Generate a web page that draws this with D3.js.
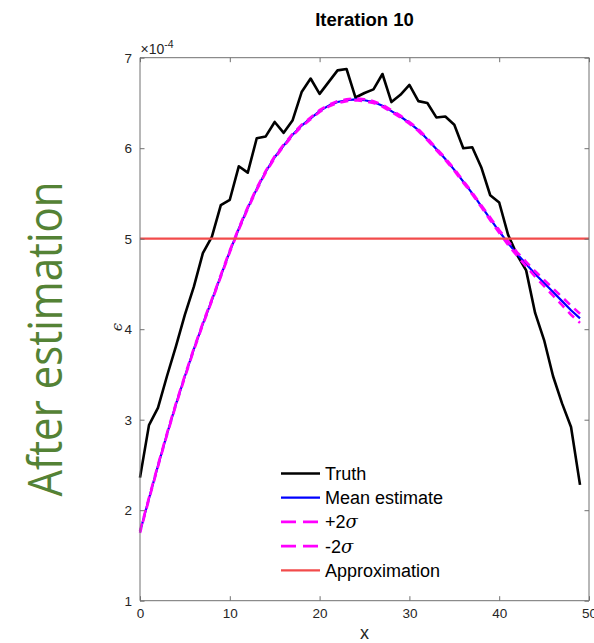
<!DOCTYPE html>
<html>
<head>
<meta charset="utf-8">
<script src="https://cdn.jsdelivr.net/npm/d3@7"></script>
<style>
  html, body { margin: 0; padding: 0; background: #fff; }
  svg { display: block; }
</style>
</head>
<body>
<svg id="chart" width="594" height="643"></svg>
<script>
// Error values (units of 1e-4) at x = 0..49
const truth = [2.36, 2.94, 3.13, 3.48, 3.81, 4.16, 4.47, 4.84, 5.02, 5.37,
               5.43, 5.80, 5.73, 6.11, 6.13, 6.29, 6.17, 6.31, 6.62, 6.77,
               6.60, 6.73, 6.86, 6.875, 6.56, 6.61, 6.65, 6.82, 6.51, 6.59,
               6.70, 6.52, 6.50, 6.34, 6.35, 6.26, 6.00, 6.01, 5.79, 5.48,
               5.40, 5.04, 4.82, 4.65, 4.18, 3.88, 3.48, 3.18, 2.92, 2.28];
const meanEstimate = [1.76, 2.13, 2.49, 2.84, 3.17, 3.48, 3.78, 4.06, 4.32, 4.59,
                      4.86, 5.11, 5.34, 5.55, 5.74, 5.90, 6.03, 6.15, 6.25, 6.33,
                      6.41, 6.47, 6.51, 6.53, 6.54, 6.53, 6.51, 6.47, 6.41, 6.35,
                      6.28, 6.20, 6.10, 5.99, 5.88, 5.76, 5.63, 5.50, 5.36, 5.22,
                      5.08, 4.95, 4.83, 4.72, 4.61, 4.51, 4.41, 4.31, 4.21, 4.12];
const plus2Sigma = [1.77, 2.14, 2.50, 2.85, 3.18, 3.49, 3.79, 4.07, 4.33, 4.60,
                    4.87, 5.12, 5.35, 5.56, 5.75, 5.91, 6.04, 6.16, 6.26, 6.34,
                    6.42, 6.48, 6.52, 6.54, 6.55, 6.54, 6.52, 6.48, 6.42, 6.36,
                    6.29, 6.21, 6.11, 6.00, 5.89, 5.77, 5.64, 5.51, 5.37, 5.235,
                    5.095, 4.97, 4.85, 4.745, 4.64, 4.545, 4.45, 4.355, 4.26, 4.17];
const minus2Sigma = [1.75, 2.12, 2.48, 2.83, 3.16, 3.47, 3.77, 4.05, 4.31, 4.58,
                     4.85, 5.10, 5.33, 5.54, 5.73, 5.89, 6.02, 6.14, 6.24, 6.32,
                     6.40, 6.46, 6.50, 6.52, 6.53, 6.52, 6.50, 6.46, 6.40, 6.34,
                     6.27, 6.19, 6.09, 5.98, 5.87, 5.75, 5.62, 5.49, 5.35, 5.205,
                     5.065, 4.93, 4.81, 4.695, 4.58, 4.475, 4.37, 4.265, 4.16, 4.07];
const approximation = 5.0;
const xTicks = [0, 10, 20, 30, 40, 50];
const yTicks = [1, 2, 3, 4, 5, 6, 7];
const legendLabels = ["Truth", "Mean estimate", "+2\u03c3", "-2\u03c3", "Approximation"];

const svg = d3.select("#chart");
const font = "'Liberation Sans', Arial, Helvetica, sans-serif";

const x = d3.scaleLinear().domain([0, 50]).range([140, 589]);
const y = d3.scaleLinear().domain([1, 7]).range([600.7, 57.7]);
const xs = truth.map((_, i) => i);

// side caption
svg.append("text")
  .attr("transform", "translate(62,339) rotate(-90)")
  .attr("text-anchor", "middle")
  .attr("font-family", "'Open Sans', sans-serif")
  .attr("font-size", 47)
  .attr("textLength", 315)
  .attr("lengthAdjust", "spacingAndGlyphs")
  .attr("fill", "#548235")
  .text("After estimation");

// title
svg.append("text")
  .attr("x", 364.5).attr("y", 26)
  .attr("text-anchor", "middle")
  .attr("font-family", font).attr("font-weight", "bold")
  .attr("font-size", 18.5).attr("fill", "#000")
  .text("Iteration 10");

// series
const line = vals => d3.line().x((d, i) => x(xs[i])).y(d => y(d))(vals);
const plot = svg.append("g");
plot.append("path").attr("d", line(truth))
  .attr("fill", "none").attr("stroke", "#000").attr("stroke-width", 2.6)
  .attr("stroke-linejoin", "round");
plot.append("path").attr("d", line(meanEstimate))
  .attr("fill", "none").attr("stroke", "#0000ff").attr("stroke-width", 2.2);
plot.append("path").attr("d", line(plus2Sigma))
  .attr("fill", "none").attr("stroke", "#ff00ff").attr("stroke-width", 2.6)
  .attr("stroke-dasharray", "8,6");
plot.append("path").attr("d", line(minus2Sigma))
  .attr("fill", "none").attr("stroke", "#ff00ff").attr("stroke-width", 2.6)
  .attr("stroke-dasharray", "8,6").attr("stroke-dashoffset", 3);
plot.append("line")
  .attr("x1", x(0)).attr("x2", x(50))
  .attr("y1", y(approximation)).attr("y2", y(approximation))
  .attr("stroke", "#f24b4b").attr("stroke-width", 2.2);

// axes box with inward ticks on all four sides
const axisColor = "#707070";
const tickLen = 4.5;
const xb = d3.axisBottom(x).tickValues(xTicks).tickSize(-tickLen).tickPadding(8).tickFormat(d3.format("d"));
const xt = d3.axisTop(x).tickValues(xTicks).tickSize(-tickLen).tickFormat("");
const yl = d3.axisLeft(y).tickValues(yTicks).tickSize(-tickLen).tickPadding(8).tickFormat(d3.format("d"));
const yr = d3.axisRight(y).tickValues(yTicks).tickSize(-tickLen).tickFormat("");

function styleAxis(g) {
  g.select(".domain").attr("stroke", axisColor).attr("stroke-width", 1);
  g.selectAll(".tick line").attr("stroke", axisColor);
  g.selectAll(".tick text").attr("fill", "#262626").attr("font-size", 13.5).attr("font-family", font);
}
svg.append("g").attr("transform", `translate(0,${y(1)})`).call(xb).call(styleAxis)
  .call(g => g.select(".domain").attr("d", `M${x(0)},0H${x(50)}`));
svg.append("g").attr("transform", `translate(0,${y(7)})`).call(xt).call(styleAxis)
  .call(g => g.select(".domain").attr("d", `M${x(0)},0H${x(50)}`));
svg.append("g").attr("transform", `translate(${x(0)},0)`).call(yl).call(styleAxis)
  .call(g => g.select(".domain").attr("d", `M0,${y(1)}V${y(7)}`));
svg.append("g").attr("transform", `translate(${x(50)},0)`).call(yr).call(styleAxis)
  .call(g => g.select(".domain").attr("d", `M0,${y(1)}V${y(7)}`));

// exponent label
const expo = svg.append("text")
  .attr("x", 140.5).attr("y", 54)
  .attr("font-family", font).attr("font-size", 14).attr("fill", "#262626");
expo.append("tspan").text("\u00d710");
expo.append("tspan").attr("dy", -6).attr("font-size", 10.5).text("-4");

// axis labels
svg.append("text")
  .attr("x", 364.5).attr("y", 639)
  .attr("text-anchor", "middle")
  .attr("font-family", font).attr("font-size", 18).attr("fill", "#262626")
  .text("x");
svg.append("text")
  .attr("transform", "translate(122,327) rotate(-90)")
  .attr("text-anchor", "middle")
  .attr("font-family", "'DejaVu Serif', serif").attr("font-style", "italic")
  .attr("font-size", 15).attr("fill", "#262626")
  .text("\u03f5");

// legend
const legendStyles = [
  { stroke: "#000", width: 2.6, dash: null },
  { stroke: "#0000ff", width: 2.2, dash: null },
  { stroke: "#ff00ff", width: 2.6, dash: "15,7" },
  { stroke: "#ff00ff", width: 2.6, dash: "15,7" },
  { stroke: "#f24b4b", width: 2.2, dash: null }
];
const legend = svg.append("g").attr("font-family", font).attr("font-size", 18);
legendLabels.forEach((label, i) => {
  const cy = 473.5 + i * 24.2;
  const st = legendStyles[i];
  legend.append("line")
    .attr("x1", 281).attr("x2", 320).attr("y1", cy).attr("y2", cy)
    .attr("stroke", st.stroke).attr("stroke-width", st.width)
    .attr("stroke-dasharray", st.dash);
  const t = legend.append("text").attr("x", 325).attr("y", cy + 6.5).attr("fill", "#000");
  if (label.includes("\u03c3")) {
    t.append("tspan").text(label.replace("\u03c3", ""));
    t.append("tspan").attr("font-family", "'DejaVu Serif', serif").attr("font-style", "italic").text("\u03c3");
  } else {
    t.text(label);
  }
});
</script>
</body>
</html>
